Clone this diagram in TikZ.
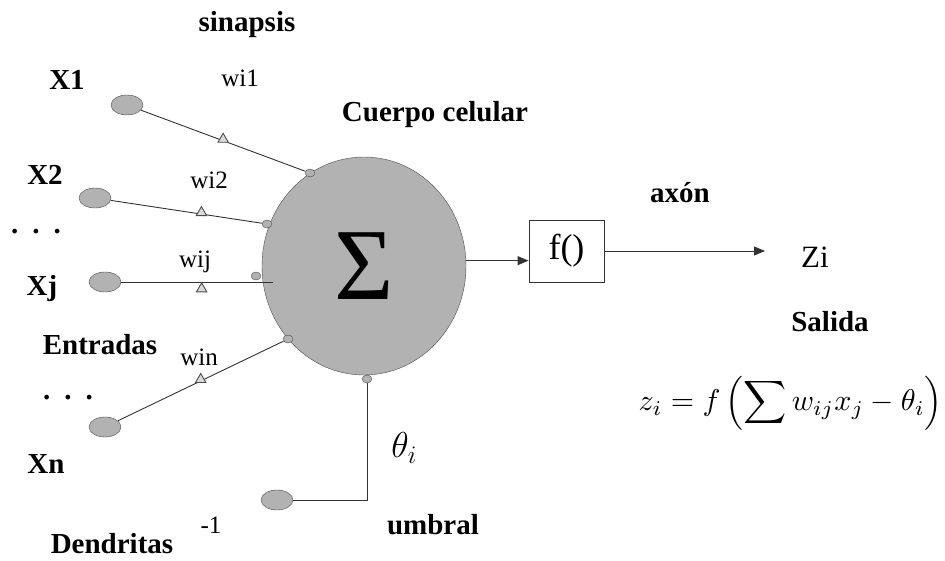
\RequirePackage{fix-cm}
\documentclass[tikz,border=0pt]{standalone}
\usepackage{amsmath}
\usepackage{graphicx}
\usepackage{fontspec}
\setmainfont{Liberation Serif}
\usetikzlibrary{shapes.geometric,arrows.meta,calc}
\begin{document}
\begin{tikzpicture}[x=1pt,y=-1pt,
  inp/.style={ellipse,draw=black!70,fill=gray!60,minimum width=32pt,minimum height=20pt,inner sep=0pt},
  syn/.style={ellipse,draw=black!70,fill=gray!60,minimum width=10pt,minimum height=8pt,inner sep=0pt},
  tri/.style={regular polygon,regular polygon sides=3,draw=black!70,fill=gray!30,minimum size=12pt,inner sep=0pt},
  conn/.style={draw=black!80,line width=0.9pt},
  arr/.style={conn,-{Triangle[length=11pt,width=9pt]}},
  lbl/.style={font=\fontsize{25}{30}\selectfont,inner sep=0pt},
  bl/.style={font=\bfseries\fontsize{29}{34}\selectfont,inner sep=0pt},
]
\useasboundingbox (0,0) rectangle (945,561);
% cell body
\node[ellipse,draw=black!70,fill=gray!60,minimum width=204pt,minimum height=218pt,inner sep=0pt,
      font=\fontsize{102}{102}\selectfont] (cell) at (364,266) {Σ};
% inputs
\node[inp] (x1) at (127,105) {};
\node[inp] (x2) at (95,198) {};
\node[inp] (xj) at (105,282) {};
\node[inp] (xn) at (105,427) {};
\node[inp] (u)  at (277,500) {};
% synapses
\node[syn] (s1) at (310,173) {};
\node[syn] (s2) at (267,224) {};
\node[syn] (sj) at (256,276) {};
\node[syn] (sn) at (288,339) {};
\node[syn] (su) at (367,379) {};
\coordinate (jend) at (273,282);
% connectors
\draw[conn] (x1) -- node[tri,pos=0.5,anchor=south,yshift=-2pt] (t1) {} (s1);
\draw[conn] (x2) -- node[tri,pos=0.6,anchor=south,yshift=-2pt] (t2) {} (s2);
\draw[conn] (xj) -- node[tri,pos=0.53,anchor=north] (tj) {} (jend);
\draw[conn] (xn) -- node[tri,pos=0.5,anchor=south,yshift=-2pt] (tn) {} (sn);
\draw[conn] (u) -| (su);
% output
\node[draw=black!80,line width=0.9pt,minimum width=75pt,minimum height=62pt,inner sep=0pt,
      font=\fontsize{36}{40}\selectfont] (f) at (566.5,251) {f()};
\draw[arr] (cell.3) -- (cell.3 -| f.west);
\coordinate (zout) at (765,251);
\draw[arr] (f.east) -- (zout);
% labels
\node[bl] (lsin) at (247,25) {sinapsis};
\node[bl] (lx1) at (67,80) {X1};
\node[lbl] (lw1) at (240,78) {wi1};
\node[bl] (lcc) at (435,115) {Cuerpo celular};
\node[bl] (lx2) at (45,175) {X2};
\node[lbl] (lw2) at (209,180) {wi2};
\node[bl] (ld1) at (36,232) {.\hspace{14pt}.\hspace{14pt}.};
\node[lbl] (lwj) at (195,262) {wij};
\node[bl] (lxj) at (42,289) {Xj};
\node[bl] (lent) at (100,345) {Entradas};
\node[lbl] (lwn) at (199,357) {win};
\node[bl] (ld2) at (68,398) {.\hspace{14pt}.\hspace{14pt}.};
\node[bl] (lxn) at (46,464) {Xn};
\node[inner sep=0pt,font=\fontsize{36}{42}\selectfont] (lth) at (404,448) {$\theta_i$};
\node[lbl] (lm1) at (211,525) {-1};
\node[bl] (lum) at (433,525) {umbral};
\node[bl] (lden) at (112,544) {Dendritas};
\node[bl] (lax) at (680,193) {axón};
\node[lbl,font=\fontsize{31}{36}\selectfont] (lzi) at (815,257) {Zi};
\node[bl] (lsal) at (830,322) {Salida};
\node[inner sep=0pt,anchor=east,font=\fontsize{10}{12}\selectfont] (form) at (943,403)
  {\scalebox{3.0}{$z_i = f\left(\displaystyle\sum\nolimits w_{ij} x_j - \theta_i\right)$}};
\end{tikzpicture}
\end{document}
